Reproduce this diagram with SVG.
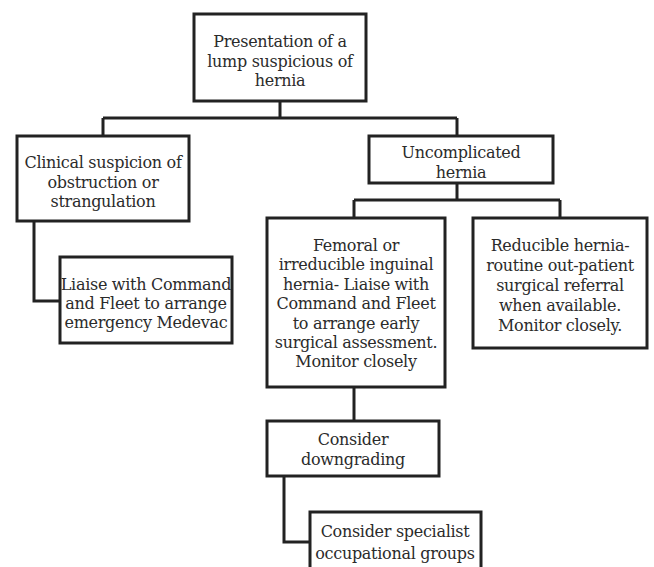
<svg xmlns="http://www.w3.org/2000/svg" width="654" height="567" viewBox="0 0 654 567">
<style>
.box{fill:#fff;stroke:#222;stroke-width:3}
.ln{fill:none;stroke:#222;stroke-width:3}
text{font-family:"DejaVu Serif","Liberation Serif",serif;font-size:16px;letter-spacing:-0.3px;fill:#2b2b2b;text-anchor:middle}
</style>
<rect width="654" height="567" fill="#fff"/>
<g id="connectors">
<path class="ln" d="M280 101V118M103 118H457M103 118V136M457 118V136"/>
<path class="ln" d="M34 221V301H60"/>
<path class="ln" d="M457 183V200M354 200H560M354 200V218M560 200V218"/>
<path class="ln" d="M354 387V421"/>
<path class="ln" d="M284 476V542H310"/>
</g>
<g id="n1"><rect class="box" x="194" y="14" width="172" height="87"/>
<text x="280" y="47">Presentation of a</text><text x="280" y="67">lump suspicious of</text><text x="280" y="86">hernia</text></g>
<g id="n2"><rect class="box" x="17" y="136" width="172" height="85"/>
<text x="103" y="168">Clinical suspicion of</text><text x="103" y="188">obstruction or</text><text x="103" y="207">strangulation</text></g>
<g id="n3"><rect class="box" x="60" y="257" width="172" height="86"/>
<text x="146" y="290">Liaise with Command</text><text x="146" y="309">and Fleet to arrange</text><text x="146" y="328">emergency Medevac</text></g>
<g id="n4"><rect class="box" x="369" y="136" width="184" height="47"/>
<text x="461" y="158">Uncomplicated</text><text x="461" y="178">hernia</text></g>
<g id="n5"><rect class="box" x="267" y="218" width="178" height="169"/>
<text x="356" y="251">Femoral or</text><text x="356" y="270">irreducible inguinal</text><text x="356" y="290">hernia- Liaise with</text><text x="356" y="309">Command and Fleet</text><text x="356" y="329">to arrange early</text><text x="356" y="348">surgical assessment.</text><text x="356" y="367">Monitor closely</text></g>
<g id="n6"><rect class="box" x="473" y="218" width="174" height="130"/>
<text x="560" y="251">Reducible hernia-</text><text x="560" y="271">routine out-patient</text><text x="560" y="291">surgical referral</text><text x="560" y="311">when available.</text><text x="560" y="331">Monitor closely.</text></g>
<g id="n7"><rect class="box" x="267" y="421" width="172" height="55"/>
<text x="353" y="445">Consider</text><text x="353" y="465">downgrading</text></g>
<g id="n8"><rect class="box" x="310" y="512" width="171" height="70"/>
<text x="395" y="537">Consider specialist</text><text x="395" y="559">occupational groups</text></g>
</svg>
